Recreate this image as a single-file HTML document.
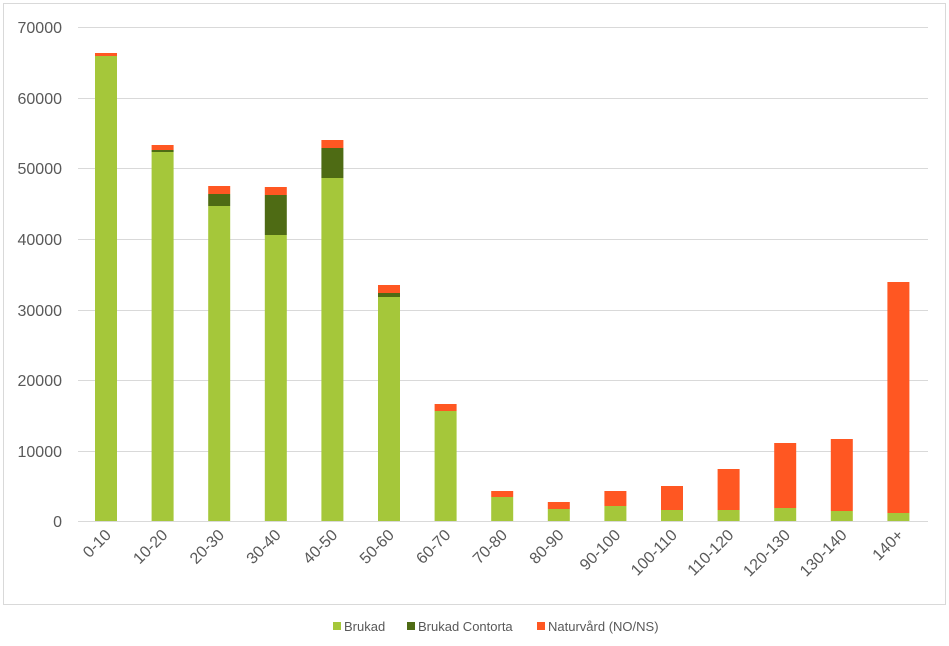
<!DOCTYPE html>
<html><head><meta charset="utf-8"><style>body{margin:0;background:#fff}svg{display:block}text{font-family:"Liberation Sans",sans-serif}</style></head><body>
<svg width="949" height="646" viewBox="0 0 949 646" xmlns="http://www.w3.org/2000/svg">
<rect x="3.5" y="3.5" width="942" height="601" fill="#fff" stroke="#d9d9d9"/>
<g stroke="#d9d9d9" stroke-width="1">
<line x1="78" x2="928" y1="27.5" y2="27.5"/><line x1="78" x2="928" y1="98.5" y2="98.5"/><line x1="78" x2="928" y1="168.5" y2="168.5"/><line x1="78" x2="928" y1="239.5" y2="239.5"/><line x1="78" x2="928" y1="310.5" y2="310.5"/><line x1="78" x2="928" y1="380.5" y2="380.5"/><line x1="78" x2="928" y1="451.5" y2="451.5"/><line x1="78" x2="928" y1="521.5" y2="521.5"/>
</g>
<g font-size="16" fill="#595959" text-anchor="end">
<text x="62" y="33">70000</text><text x="62" y="104">60000</text><text x="62" y="174">50000</text><text x="62" y="245">40000</text><text x="62" y="316">30000</text><text x="62" y="386">20000</text><text x="62" y="457">10000</text><text x="62" y="527">0</text>
</g>
<g id="bars"></g>
<g font-size="16" fill="#595959" text-anchor="end" id="labels"></g>
<g font-size="13" fill="#595959">
<rect x="333" y="622" width="8" height="8" fill="#a5c73a"/><text x="344" y="631">Brukad</text>
<rect x="407" y="622" width="8" height="8" fill="#4e6b14"/><text x="418" y="631">Brukad Contorta</text>
<rect x="537" y="622" width="8" height="8" fill="#ff5722"/><text x="548" y="631">Naturvård (NO/NS)</text>
</g>
<script>
var d=[["0-10",56,56,53],["10-20",152,150,145],["20-30",206,194,186],["30-40",235,195,187],["40-50",178,148,140],["50-60",297,293,285],["60-70",411,411,404],["70-80",497,497,491],["80-90",509,509,502],["90-100",506,506,491],["100-110",510,510,486],["110-120",510,510,469],["120-130",508,508,443],["130-140",511,511,439],["140+",513,513,282]];
var b=document.getElementById("bars"),l=document.getElementById("labels"),ns="http://www.w3.org/2000/svg";
function r(x,y1,y2,c){if(y2-y1<=0)return;var e=document.createElementNS(ns,"rect");e.setAttribute("x",x);e.setAttribute("y",y1);e.setAttribute("width",22);e.setAttribute("height",y2-y1);e.setAttribute("fill",c);b.appendChild(e);}
d.forEach(function(v,i){var cx=106+i*56.6,x=cx-11;r(x,v[1],521,"#a5c73a");r(x,v[2],v[1],"#4e6b14");r(x,v[3],v[2],"#ff5722");
var t=document.createElementNS(ns,"text");t.setAttribute("transform","translate("+(cx+6)+",536) rotate(-45)");t.textContent=v[0];l.appendChild(t);});
</script>
</svg>
</body></html>
